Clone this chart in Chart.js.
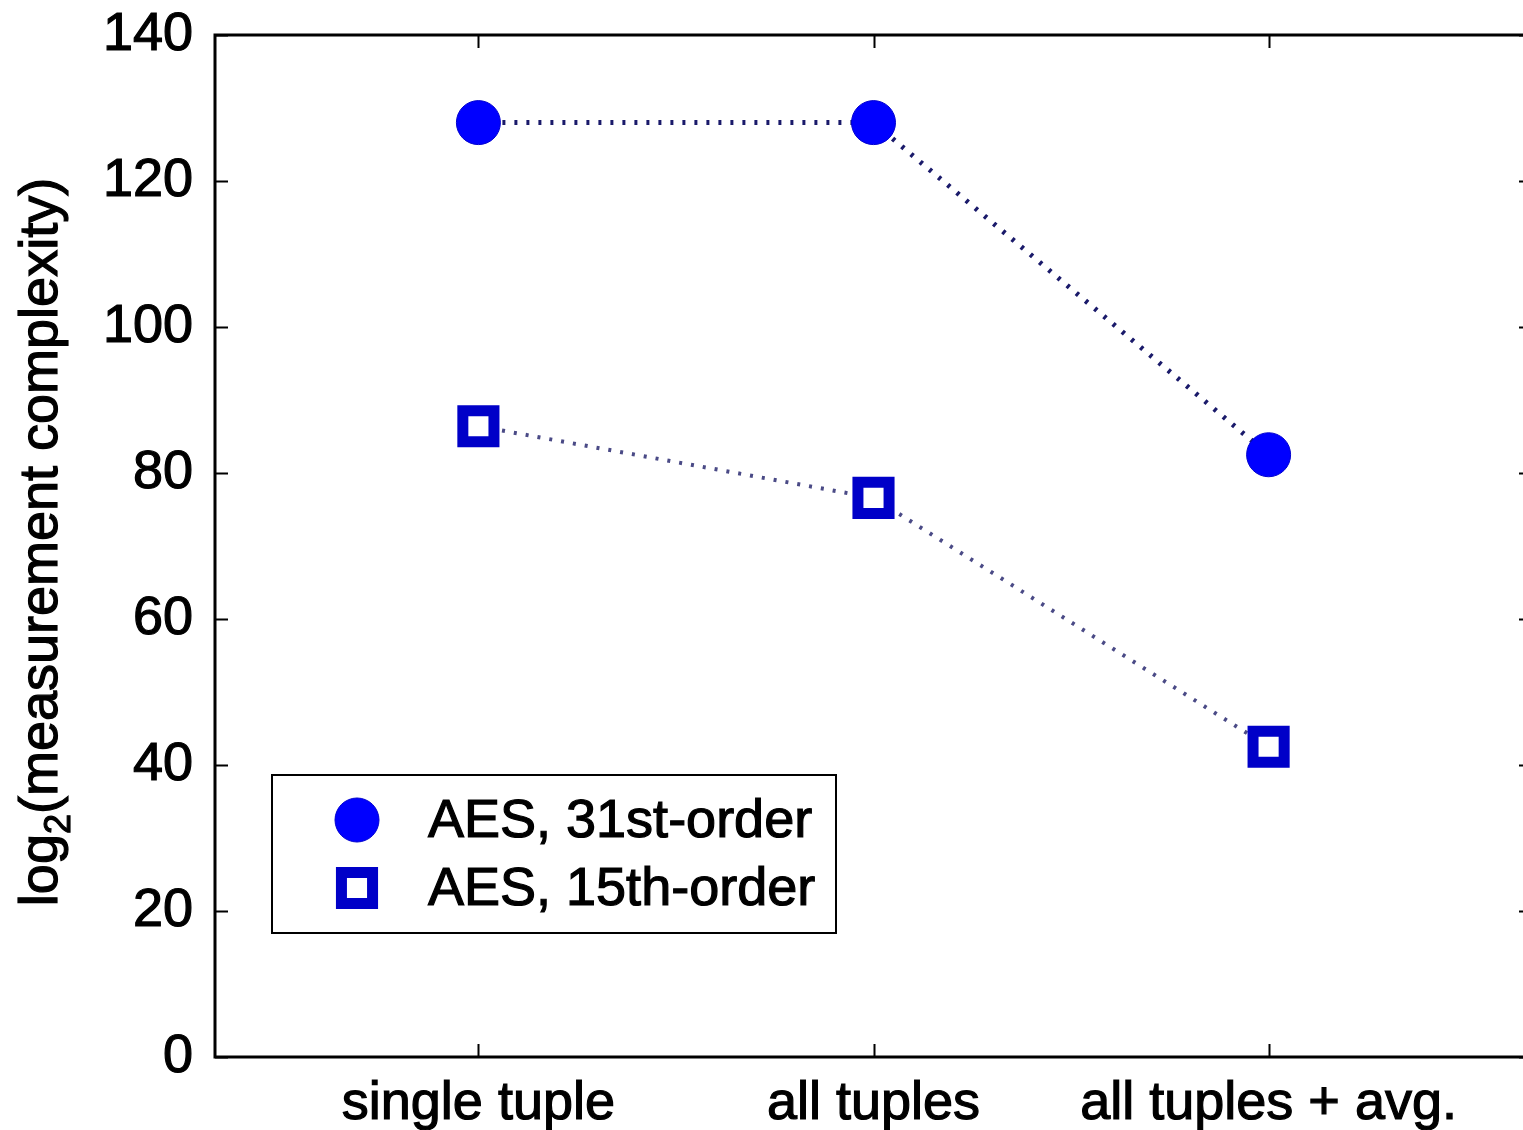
<!DOCTYPE html>
<html lang="en">
<head>
  <meta charset="UTF-8">
  <title>Measurement complexity</title>
  <style>
    body { margin: 0; background: #fff; overflow: hidden; }
    .wrap { width: 1523px; height: 1130px; overflow: hidden; }
    canvas { display: block; }
  </style>
  <script src="https://cdn.jsdelivr.net/npm/chart.js"></script>
</head>
<body>
  <div class="wrap">
    <canvas id="chart" width="1535" height="1130"></canvas>
  </div>
  <script>
    const categories = ['single tuple', 'all tuples', 'all tuples + avg.'];
    const xPositions = [1, 2, 3];
    const aes31 = [128, 128, 82.5];
    const aes15 = [86.4, 76.6, 42.5];
    const yTicks = [0, 20, 40, 60, 80, 100, 120, 140];

    const FONT = '"Liberation Sans", Arial, sans-serif';

    const toPoints = vals => vals.map((v, i) => ({ x: xPositions[i], y: v }));

    // frame, inward ticks on all four sides, y title and boxed legend
    const decorations = {
      id: 'decorations',
      afterDraw(chart) {
        const ctx = chart.ctx;
        const a = chart.chartArea;
        const xs = chart.scales.x, ys = chart.scales.y;
        const tl = 13;
        ctx.save();
        ctx.strokeStyle = '#000';
        ctx.lineWidth = 2;
        ctx.beginPath();
        yTicks.forEach(v => {
          const y = Math.round(ys.getPixelForValue(v)) + 0.5;
          ctx.moveTo(a.left, y); ctx.lineTo(a.left + tl, y);
          ctx.moveTo(a.right, y); ctx.lineTo(a.right - tl, y);
        });
        xPositions.forEach(v => {
          const x = Math.round(xs.getPixelForValue(v)) + 0.5;
          ctx.moveTo(x, a.bottom); ctx.lineTo(x, a.bottom - tl);
          ctx.moveTo(x, a.top); ctx.lineTo(x, a.top + tl);
        });
        ctx.stroke();
        ctx.lineWidth = 3;
        ctx.strokeRect(a.left, a.top, a.right - a.left, a.bottom - a.top);

        // y axis title with subscript
        ctx.fillStyle = '#000';
        ctx.strokeStyle = '#000';
        ctx.lineWidth = 1.2;
        ctx.translate(57, 542);
        ctx.rotate(-Math.PI / 2);
        ctx.textBaseline = 'alphabetic';
        ctx.textAlign = 'left';
        const big = '54px ' + FONT, small = '36px ' + FONT;
        const put = (t, x, y) => { ctx.fillText(t, x, y); ctx.strokeText(t, x, y); };
        ctx.font = big;
        const w1 = ctx.measureText('log').width;
        const w3 = ctx.measureText('(measurement complexity)').width;
        ctx.font = small;
        const w2 = ctx.measureText('2').width;
        let x0 = -(w1 + w2 + w3) / 2;
        ctx.font = big;
        put('log', x0, 0);
        ctx.font = small;
        put('2', x0 + w1, 13);
        ctx.font = big;
        put('(measurement complexity)', x0 + w1 + w2, 0);
        ctx.restore();

        // legend
        ctx.save();
        ctx.fillStyle = '#fff';
        ctx.fillRect(272, 775, 564, 158);
        ctx.strokeStyle = '#000';
        ctx.lineWidth = 2;
        ctx.strokeRect(272, 775, 564, 158);
        const rows = [820, 888];
        chart.data.datasets.forEach((ds, i) => {
          ctx.fillStyle = ds.pointBackgroundColor;
          ctx.strokeStyle = ds.pointBorderColor;
          ctx.lineWidth = ds.pointBorderWidth;
          Chart.helpers.drawPoint(ctx, {
            pointStyle: ds.pointStyle, radius: ds.pointRadius, rotation: 0, borderWidth: ds.pointBorderWidth
          }, 357, rows[i]);
          ctx.fillStyle = '#000';
          ctx.strokeStyle = '#000';
          ctx.lineWidth = 1.2;
          ctx.font = '54px ' + FONT;
          ctx.textBaseline = 'middle';
          ctx.textAlign = 'left';
          ctx.fillText(ds.label, 428, rows[i] + 2);
          ctx.strokeText(ds.label, 428, rows[i] + 2);
        });
        ctx.restore();
      }
    };

    const tickFont = { family: FONT, size: 54 };

    new Chart(document.getElementById('chart'), {
      type: 'line',
      data: {
        datasets: [
          {
            label: 'AES, 31st-order',
            data: toPoints(aes31),
            borderColor: '#1a1a6a',
            borderWidth: 5,
            borderDash: [3, 9],
            pointStyle: 'circle',
            pointRadius: 22,
            pointBackgroundColor: '#0000ff',
            pointBorderColor: '#0000d0',
            pointBorderWidth: 1
          },
          {
            label: 'AES, 15th-order',
            data: toPoints(aes15),
            borderColor: '#4a4a86',
            borderWidth: 4,
            borderDash: [3, 9],
            pointStyle: 'rect',
            pointRadius: 22,
            pointBackgroundColor: '#ffffff',
            pointBorderColor: '#0000c8',
            pointBorderWidth: 11
          }
        ]
      },
      options: {
        responsive: false,
        animation: false,
        devicePixelRatio: 1,
        layout: { autoPadding: false, padding: { top: 35, right: 3, left: 0, bottom: 0 } },
        plugins: { legend: { display: false }, tooltip: { enabled: false } },
        scales: {
          x: {
            type: 'linear',
            min: 1 / 3,
            max: 11 / 3,
            afterBuildTicks: s => { s.ticks = xPositions.map(v => ({ value: v })); },
            afterFit: s => { s.height = 73; s.paddingLeft = 0; s.paddingRight = 0; },
            grid: { display: false },
            border: { display: false },
            ticks: {
              autoSkip: false,
              maxRotation: 0,
              padding: 7,
              color: '#000',
              textStrokeColor: '#000',
              textStrokeWidth: 1.2,
              font: tickFont,
              callback: v => categories[xPositions.indexOf(v)]
            }
          },
          y: {
            min: 0,
            max: 140,
            afterBuildTicks: s => { s.ticks = yTicks.map(v => ({ value: v })); },
            afterFit: s => { s.width = 215; s.paddingTop = 0; s.paddingBottom = 0; },
            grid: { display: false },
            border: { display: false },
            ticks: {
              padding: 14,
              color: '#000',
              textStrokeColor: '#000',
              textStrokeWidth: 1.2,
              font: tickFont
            }
          }
        }
      },
      plugins: [decorations]
    });
  </script>
</body>
</html>
